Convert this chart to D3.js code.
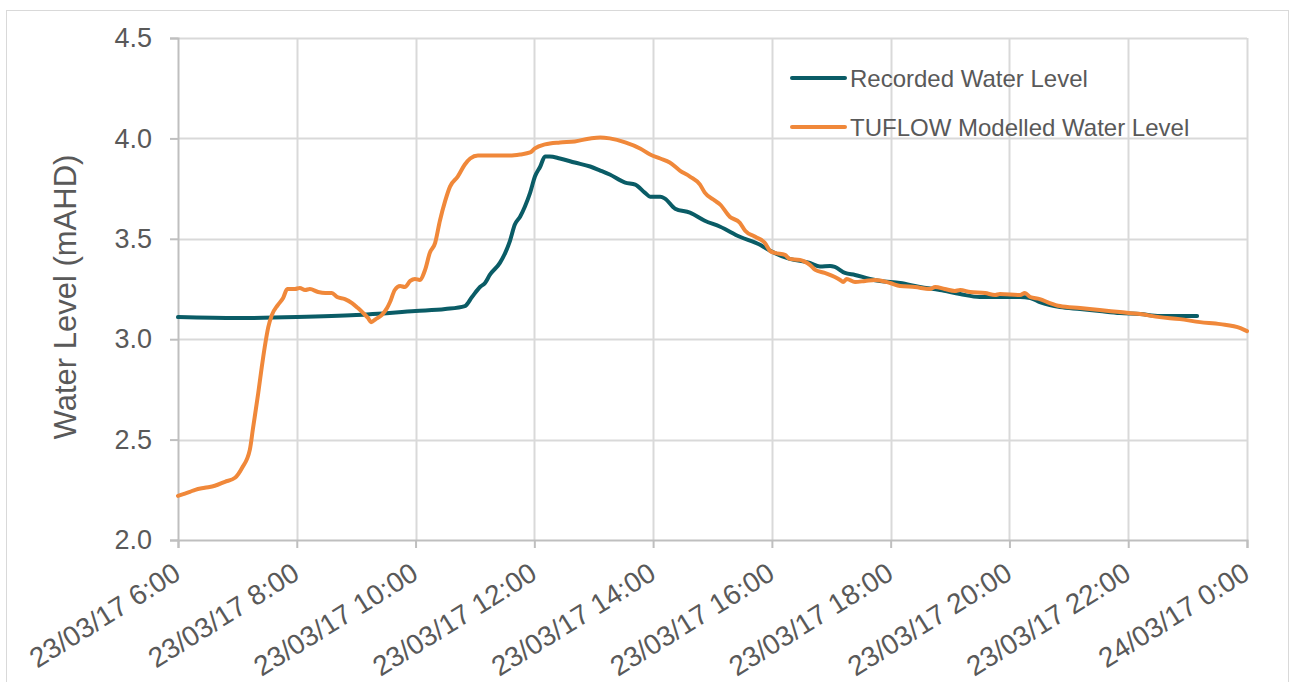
<!DOCTYPE html>
<html><head><meta charset="utf-8">
<script src="https://cdn.jsdelivr.net/npm/d3@7"></script>
<style>html,body{margin:0;padding:0;background:#fff;}svg{display:block;font-family:"Liberation Sans",Arial,sans-serif;}</style>
</head><body>
<svg id="c" width="1292" height="682"></svg>
<script>
// Hours on 23/03/17 (24 = 24/03/17 0:00)
const recordedHours = [6.0,7.0,8.0,9.0,10.0,10.5,10.83,10.95,11.085,11.17,11.25,11.42,11.51,11.59,11.67,11.76,11.84,11.93,12.01,12.10,12.18,12.26,12.43,12.68,12.94,13.11,13.27,13.53,13.70,13.86,13.95,14.12,14.20,14.37,14.62,14.87,15.13,15.46,15.80,15.97,16.30,16.64,16.81,16.98,17.06,17.23,17.40,17.65,17.82,18.16,18.49,18.83,19.17,19.50,19.84,20.18,20.35,20.51,20.68,20.85,21.19,21.52,21.86,22.20,22.53,22.87,23.16];
const recordedLevels = [3.11,3.105,3.11,3.12,3.14,3.15,3.165,3.21,3.26,3.28,3.32,3.38,3.43,3.49,3.57,3.61,3.66,3.73,3.81,3.86,3.91,3.91,3.90,3.88,3.86,3.84,3.82,3.78,3.77,3.73,3.71,3.71,3.70,3.65,3.63,3.59,3.56,3.51,3.47,3.44,3.40,3.38,3.362,3.365,3.36,3.33,3.32,3.30,3.29,3.28,3.26,3.245,3.225,3.21,3.21,3.21,3.205,3.185,3.17,3.16,3.15,3.14,3.13,3.125,3.115,3.115,3.115];

const modelHours = [6.00,6.20,6.29,6.45,6.62,6.79,6.96,7.08,7.21,7.26,7.35,7.41,7.46,7.52,7.58,7.68,7.77,7.84,7.97,8.05,8.14,8.22,8.36,8.48,8.59,8.68,8.81,8.93,9.03,9.12,9.20,9.25,9.33,9.43,9.52,9.57,9.65,9.74,9.82,9.91,9.99,10.07,10.16,10.24,10.33,10.41,10.50,10.58,10.71,10.83,10.92,11.05,11.25,11.59,11.76,11.93,12.01,12.18,12.43,12.68,12.94,13.11,13.27,13.53,13.78,13.95,14.12,14.28,14.45,14.62,14.79,14.87,15.04,15.13,15.29,15.46,15.55,15.72,15.88,15.97,16.05,16.22,16.30,16.47,16.56,16.64,16.73,16.89,17.06,17.15,17.20,17.26,17.40,17.57,17.74,17.99,18.16,18.41,18.66,18.75,18.91,19.08,19.17,19.34,19.59,19.76,19.84,20.18,20.26,20.35,20.51,20.68,20.85,21.19,21.52,21.86,22.20,22.53,22.87,23.21,23.55,23.89,24.00];
const modelLevels = [2.22,2.24,2.25,2.26,2.27,2.29,2.31,2.36,2.45,2.55,2.73,2.86,2.96,3.06,3.12,3.17,3.205,3.25,3.25,3.255,3.245,3.25,3.235,3.23,3.23,3.21,3.20,3.18,3.155,3.13,3.105,3.085,3.10,3.12,3.155,3.185,3.245,3.265,3.26,3.29,3.30,3.295,3.345,3.43,3.48,3.59,3.69,3.76,3.81,3.87,3.90,3.915,3.915,3.915,3.92,3.93,3.95,3.97,3.98,3.985,4.00,4.005,4.00,3.98,3.95,3.92,3.90,3.88,3.84,3.81,3.77,3.73,3.69,3.67,3.61,3.58,3.54,3.51,3.48,3.44,3.43,3.42,3.40,3.395,3.385,3.37,3.345,3.33,3.31,3.295,3.285,3.30,3.285,3.29,3.295,3.28,3.265,3.26,3.25,3.26,3.25,3.24,3.245,3.235,3.23,3.22,3.225,3.22,3.23,3.21,3.20,3.18,3.165,3.155,3.145,3.135,3.125,3.11,3.10,3.085,3.075,3.055,3.04];

const yTicks = [2.0,2.5,3.0,3.5,4.0,4.5];
const xTickHours = [6,8,10,12,14,16,18,20,22,24];
const xTickLabels = ["23/03/17 6:00","23/03/17 8:00","23/03/17 10:00","23/03/17 12:00","23/03/17 14:00","23/03/17 16:00","23/03/17 18:00","23/03/17 20:00","23/03/17 22:00","24/03/17 0:00"];
const seriesNames = ["Recorded Water Level","TUFLOW Modelled Water Level"];
const seriesColors = ["#0a5c66","#f0883a"];

const svg = d3.select("#c");
const m = {left:178, right:1247, top:38, bottom:540};

svg.append("rect").attr("x",6.5).attr("y",10.5).attr("width",1282).attr("height",690)
  .attr("fill","#fff").attr("stroke","#d9d9d9").attr("stroke-width",1);

const base = new Date(2017,2,23,0,0,0);
const toDate = h => new Date(base.getTime()+h*3600000);

const x = d3.scaleTime().domain([toDate(6),toDate(24)]).range([m.left,m.right]);
const y = d3.scaleLinear().domain([2,4.5]).range([m.bottom,m.top]);

// grid
const g = svg.append("g");
g.selectAll(".hg").data(yTicks.slice(1)).enter().append("line")
  .attr("x1",m.left).attr("x2",m.right).attr("y1",d=>Math.round(y(d))+0.5).attr("y2",d=>Math.round(y(d))+0.5)
  .attr("stroke","#d9d9d9").attr("stroke-width",2);
g.selectAll(".vg").data(xTickHours.slice(1)).enter().append("line")
  .attr("x1",d=>Math.round(x(toDate(d)))+0.5).attr("x2",d=>Math.round(x(toDate(d)))+0.5)
  .attr("y1",m.top).attr("y2",m.bottom)
  .attr("stroke","#d9d9d9").attr("stroke-width",2);

// y axis
const yAxis = d3.axisLeft(y).tickValues(yTicks).tickFormat(d3.format(".1f")).tickSize(8).tickPadding(18);
const ya = svg.append("g").attr("transform",`translate(${m.left},0)`).call(yAxis);
ya.select(".domain").attr("stroke","#bfbfbf").attr("stroke-width",2);
ya.selectAll(".tick line").attr("stroke","#bfbfbf").attr("stroke-width",2);
ya.selectAll(".tick text").attr("fill","#595959").style("font-size","27px").style("font-family","'Liberation Sans',Arial,sans-serif");

// x axis
const xAxis = d3.axisBottom(x).tickValues(xTickHours.map(toDate)).tickFormat((d,i)=>xTickLabels[i]).tickSize(8).tickPadding(10);
const xa = svg.append("g").attr("transform",`translate(0,${m.bottom})`).call(xAxis);
xa.select(".domain").attr("stroke","#bfbfbf").attr("stroke-width",2);
xa.selectAll(".tick line").attr("stroke","#bfbfbf").attr("stroke-width",2);
xa.selectAll(".tick text").attr("fill","#595959").style("font-size","28px").style("font-family","'Liberation Sans',Arial,sans-serif")
  .attr("text-anchor","end").attr("dy",null).attr("y",0)
  .attr("transform","translate(4,38) rotate(-32)");

// y title
svg.append("text").attr("transform",`translate(76,${(m.top+m.bottom)/2+8}) rotate(-90)`)
  .attr("text-anchor","middle").attr("fill","#595959").style("font-size","31px").text("Water Level (mAHD)");

// lines
const line = d3.line().x(d=>x(toDate(d[0]))).y(d=>y(d[1])).curve(d3.curveMonotoneX);
const recData = recordedHours.map((h,i)=>[h,recordedLevels[i]]);
const modData = modelHours.map((h,i)=>[h,modelLevels[i]]);
svg.append("path").datum(recData).attr("d",line).attr("fill","none").attr("stroke",seriesColors[0]).attr("stroke-width",4).attr("stroke-linejoin","round").attr("stroke-linecap","round");
svg.append("path").datum(modData).attr("d",line).attr("fill","none").attr("stroke",seriesColors[1]).attr("stroke-width",4).attr("stroke-linejoin","round").attr("stroke-linecap","round");

// legend
const lg = svg.append("g");
seriesNames.forEach((n,i)=>{
  const yy = 78 + i*49;
  lg.append("line").attr("x1",792).attr("x2",845).attr("y1",yy).attr("y2",yy).attr("stroke",seriesColors[i]).attr("stroke-width",4).attr("stroke-linecap","round");
  lg.append("text").attr("x",850).attr("y",yy+8.5).attr("fill","#595959").style("font-size","24px").text(n);
});
</script>
</body></html>
